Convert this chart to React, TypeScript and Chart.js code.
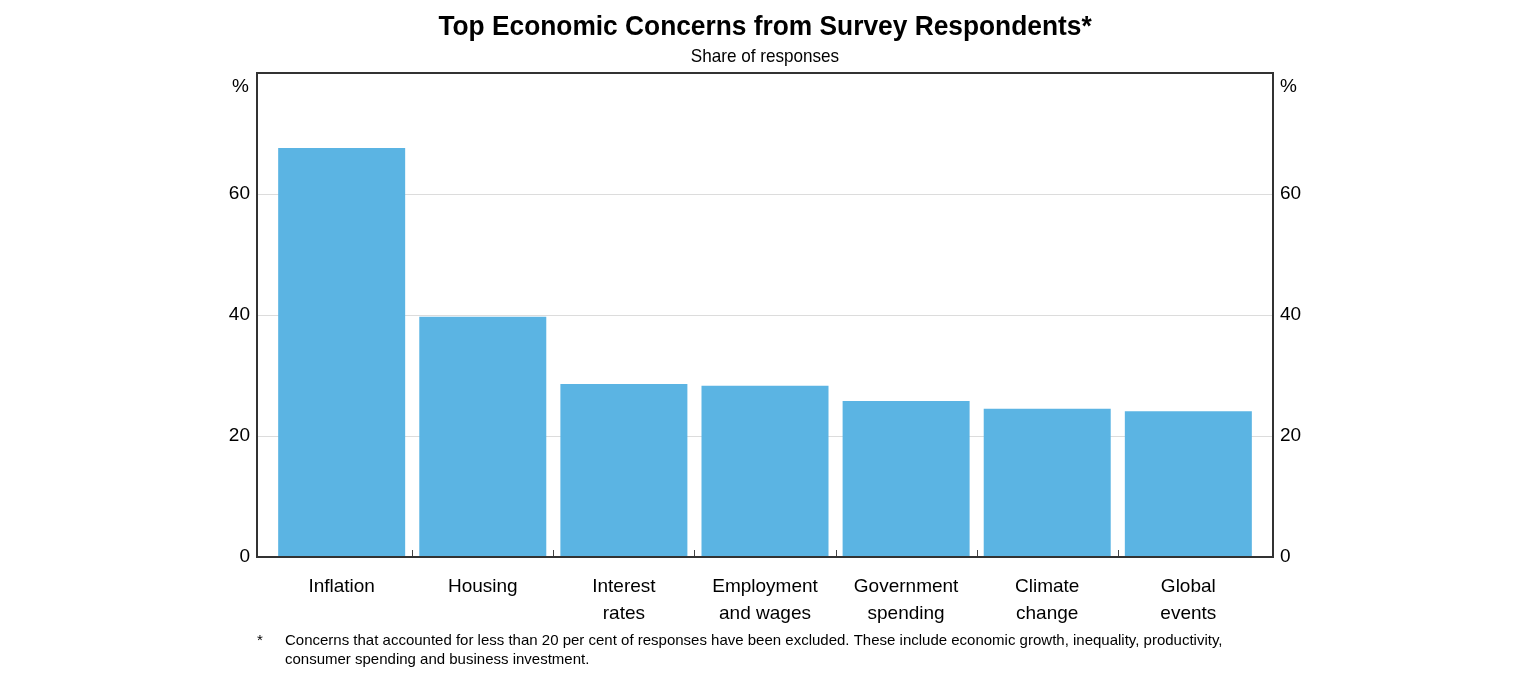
import React, { useEffect, useRef } from "react";
import { Chart, registerables } from "chart.js";

Chart.register(...registerables);

const categories: string[][] = [
  ["Inflation"],
  ["Housing"],
  ["Interest", "rates"],
  ["Employment", "and wages"],
  ["Government", "spending"],
  ["Climate", "change"],
  ["Global", "events"],
];
const shares: number[] = [67.6, 39.7, 28.6, 28.3, 25.8, 24.5, 24.1];
const yTicks: number[] = [0, 20, 40, 60];

const titleText = "Top Economic Concerns from Survey Respondents*";
const subtitleText = "Share of responses";
const footnoteLines = [
  "Concerns that accounted for less than 20 per cent of responses have been excluded. These include economic growth, inequality, productivity,",
  "consumer spending and business investment.",
];

const FONT = '"Liberation Sans", Arial, sans-serif';

function squeezedText(ctx: any, text: string, x: number, y: number, sx: number) {
  ctx.save();
  ctx.translate(x, y);
  ctx.scale(sx, 1);
  ctx.fillText(text, 0, 0);
  ctx.restore();
}

const decorPlugin = {
  id: "decor",
  afterDatasetsDraw(chart: any) {
    const { ctx, chartArea } = chart;
    const xs = chart.scales.x;
    ctx.save();
    ctx.strokeStyle = "#444";
    ctx.lineWidth = 1;
    for (let i = 0; i < shares.length - 1; i++) {
      const px = Math.round(xs.getPixelForValue(i + 0.5)) + 0.5;
      ctx.beginPath();
      ctx.moveTo(px, chartArea.bottom);
      ctx.lineTo(px, chartArea.bottom - 7);
      ctx.stroke();
    }
    ctx.strokeStyle = "#333";
    ctx.lineWidth = 2;
    ctx.strokeRect(chartArea.left, chartArea.top, chartArea.right - chartArea.left, chartArea.bottom - chartArea.top);
    ctx.restore();
  },
  afterDraw(chart: any) {
    const { ctx, chartArea } = chart;
    const cx = (chartArea.left + chartArea.right) / 2;
    ctx.save();
    ctx.fillStyle = "#000";
    ctx.textAlign = "center";
    ctx.textBaseline = "middle";
    ctx.font = `bold 28px ${FONT}`;
    squeezedText(ctx, titleText, cx, 27, 0.94);
    ctx.font = `19px ${FONT}`;
    squeezedText(ctx, subtitleText, cx, 57, 0.9);
    ctx.font = `19px ${FONT}`;
    ctx.textAlign = "right";
    ctx.fillText("%", chartArea.left - 8, 87);
    ctx.textAlign = "left";
    ctx.fillText("%", chartArea.right + 7, 87);
    ctx.font = `15px ${FONT}`;
    ctx.textAlign = "left";
    ctx.fillText("*", chartArea.left, 641);
    ctx.fillText(footnoteLines[0], chartArea.left + 28, 641);
    ctx.fillText(footnoteLines[1], chartArea.left + 28, 660);
    ctx.restore();
  },
};

export default function App() {
  const ref = useRef<HTMLCanvasElement | null>(null);
  useEffect(() => {
    if (!ref.current) return;
    const chart = new Chart(ref.current, {
      type: "bar",
      data: {
        datasets: [
          {
            data: shares.map((v, i) => ({ x: i, y: v })),
            backgroundColor: "#5BB4E3",
            borderWidth: 0,
            categoryPercentage: 1,
            barPercentage: 0.9,
          },
        ],
      },
      options: {
        animation: false,
        responsive: false,
        maintainAspectRatio: false,
        layout: { padding: { top: 73, left: 0, right: 0, bottom: 0 } },
        plugins: { legend: { display: false }, tooltip: { enabled: false }, title: { display: false } },
        scales: {
          x: {
            type: "linear",
            offset: false,
            min: -0.6,
            max: categories.length - 0.4,
            afterBuildTicks: (s: any) => {
              s.ticks = categories.map((_, i) => ({ value: i }));
            },
            grid: { display: false, offset: false },
            border: { display: false },
            ticks: {
              color: "#000",
              font: { family: FONT, size: 19, lineHeight: 1.42 },
              padding: 8,
              maxRotation: 0,
              autoSkip: false,
              callback: (v: any) => categories[Math.round(Number(v))] || "",
            },
            afterFit: (s: any) => {
              s.height = 123;
            },
          },
          y: {
            position: "left",
            min: 0,
            max: 80,
            afterBuildTicks: (s: any) => {
              s.ticks = yTicks.map((v) => ({ value: v }));
            },
            grid: { color: "#dcdcdc", lineWidth: 1, drawTicks: false },
            border: { display: false },
            ticks: { color: "#000", font: { family: FONT, size: 19 }, padding: 7 },
            afterFit: (s: any) => {
              s.width = 257;
            },
          },
          y2: {
            position: "right",
            min: 0,
            max: 80,
            afterBuildTicks: (s: any) => {
              s.ticks = yTicks.map((v) => ({ value: v }));
            },
            grid: { display: false, drawTicks: false },
            border: { display: false },
            ticks: { color: "#000", font: { family: FONT, size: 19 }, padding: 7 },
            afterFit: (s: any) => {
              s.width = 263;
            },
          },
        },
      },
      plugins: [decorPlugin],
    });
    return () => chart.destroy();
  }, []);
  return (
    <div style={{ position: "absolute", left: 0, top: 0, width: 1536, height: 680, background: "#fff" }}>
      <canvas ref={ref} width={1536} height={680} style={{ width: 1536, height: 680 }} />
    </div>
  );
}
